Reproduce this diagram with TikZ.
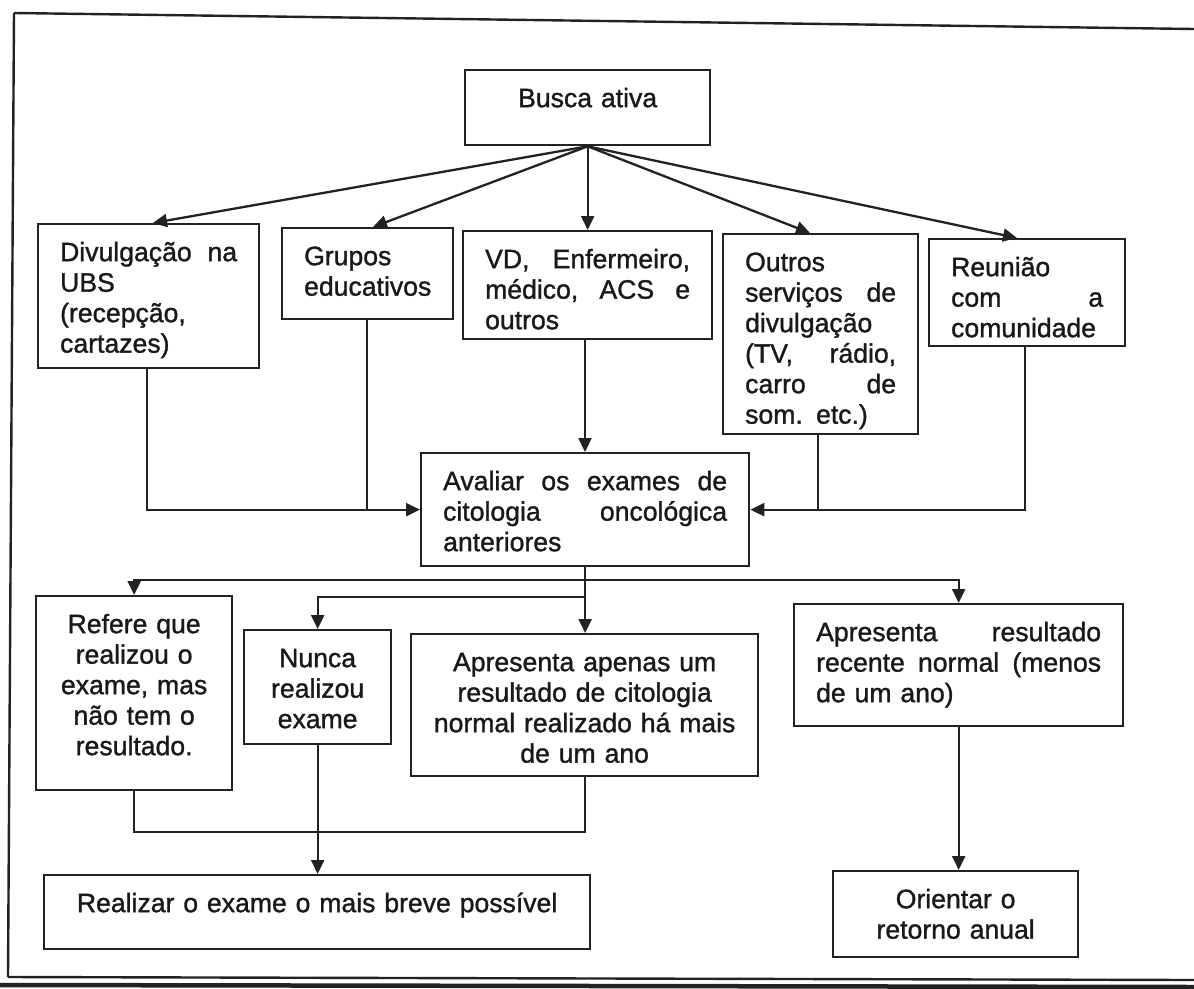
\documentclass[tikz,border=0pt]{standalone}
\usepackage{fontspec}
\setmainfont{Liberation Sans}[FakeBold=1.2]
\usetikzlibrary{arrows.meta}
\definecolor{ink}{HTML}{222222}
\begin{document}
\begin{tikzpicture}[x=1pt,y=-1pt,
  box/.style={draw=ink, line width=2.3pt, anchor=north west, inner xsep=22pt, inner ysep=0pt,
    text height=37pt, font=\fontsize{26.6}{30.5}\selectfont, text=black!90},
  conn/.style={draw=ink, line width=2.3pt},
  arr/.style={conn, -{Triangle[length=14pt,width=13pt]}},
  frame/.style={draw=ink, line width=2.4pt}]
\useasboundingbox (0,0) rectangle (1194,988);
% frame
\draw[frame] (14,13) -- (1194,29);
\draw[frame] (14,13) -- (8,977);
\draw[frame] (8,977) -- (1194,980);
\draw[draw=ink, line width=4.5pt] (0,985) -- (1194,987);
% nodes
\node[box, text width=201pt, text depth=38pt, align=center] (busca) at (464,69) {Busca ativa};
\node[box, text width=177pt, text depth=107pt, align=left] (div) at (37,223) {Divulgação\hfill na\\UBS\\(recepção,\\cartazes)};
\node[box, text width=127pt, text depth=54pt, align=left] (grupos) at (281,227) {Grupos\\educativos};
\node[box, text width=205pt, text depth=71pt, align=left] (vd) at (462,230) {VD,\hfill Enfermeiro,\\médico,\hfill ACS\hfill e\\outros};
\node[box, text width=151pt, text depth=163pt, align=left] (outros) at (722,233) {Outros\\serviços\hfill de\\divulgação\\(TV,\hfill rádio,\\carro\hfill de\\som. etc.)};
\node[box, text width=152pt, text depth=70pt, align=left] (reuniao) at (928,238) {Reunião\\com\hfill a\\comunidade};
\node[box, text width=284pt, text depth=76pt, align=left] (avaliar) at (420,452) {Avaliar\hfill os\hfill exames\hfill de\\citologia\hfill oncológica\\anteriores};
\node[box, text width=152pt, text depth=157pt, align=center] (refere) at (35,595) {Refere que\\realizou o\\exame, mas\\não tem o\\resultado.};
\node[box, text width=103pt, text depth=77pt, align=center] (nunca) at (243,629) {Nunca\\realizou\\exame};
\node[box, text width=303pt, text depth=105pt, align=center] (apenas) at (410,633) {Apresenta apenas um\\resultado de citologia\\normal realizado há mais\\de um ano};
\node[box, text width=285pt, text depth=85pt, align=left] (recente) at (793,603) {Apresenta\hfill resultado\\recente\hfill normal\hfill (menos\\de um ano)};
\node[box, text width=502pt, text depth=37pt, align=center] (realizar) at (43,874) {Realizar o exame o mais breve possível};
\node[box, text width=201pt, text depth=49pt, align=center] (orientar) at (832,870) {Orientar o\\retorno anual};
% connectors from Busca ativa
\draw[arr] (busca.south) -- (153,0 |- div.north);
\draw[arr] (busca.south) -- (373,0 |- grupos.north);
\draw[arr] (busca.south) -- (busca.south |- vd.north);
\draw[arr] (busca.south) -- (810,0 |- outros.north);
\draw[arr] (busca.south) -- (1017,0 |- reuniao.north);
% into Avaliar
\draw[arr] (147,0 |- div.south) |- (avaliar.west);
\draw[conn] (367,0 |- grupos.south) -- (367,0 |- avaliar.west);
\draw[arr] (585,0 |- vd.south) -- (585,0 |- avaliar.north);
\draw[arr] (1025,0 |- reuniao.south) |- (avaliar.east);
\draw[conn] (818,0 |- outros.south) -- (818,0 |- avaliar.east);
% from Avaliar
\coordinate (j1) at (avaliar.south |- 0,580);
\coordinate (j2) at (avaliar.south |- 0,597);
\coordinate (j3) at (apenas.south |- 0,832);
\draw[arr] (avaliar.south) -- (avaliar.south |- apenas.north);
\draw[arr] (j1) -| (refere.north);
\draw[arr] (j1) -| (recente.north);
\draw[arr] (j2) -| (nunca.north);
\draw[conn] (refere.south) |- (j3) -- (apenas.south);
\draw[arr] (nunca.south) -- (nunca.south |- realizar.north);
\draw[arr] (recente.south) -- (recente.south |- orientar.north);
\end{tikzpicture}
\end{document}
